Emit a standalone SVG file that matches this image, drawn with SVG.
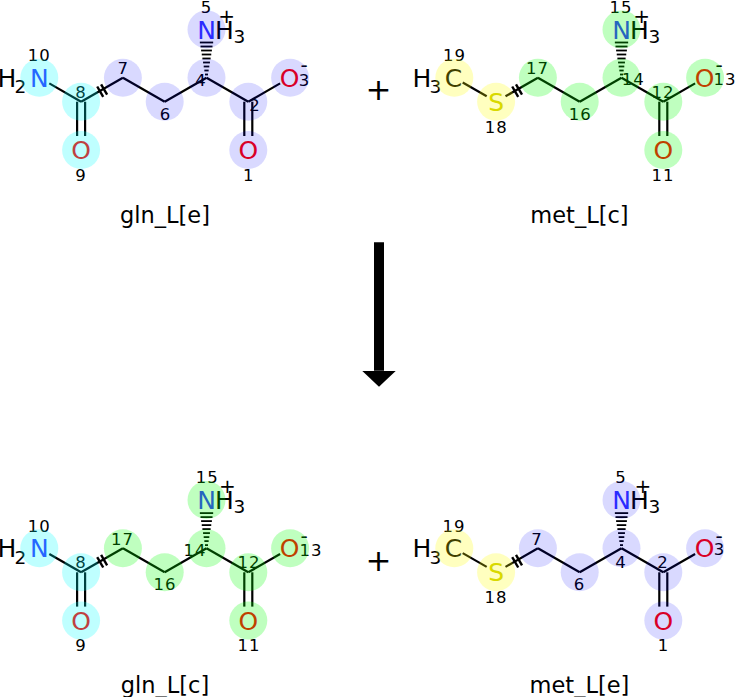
<svg xmlns="http://www.w3.org/2000/svg" width="735" height="697" viewBox="0 0 735 697">
<style>
.bg{fill:#ffffff}
.b{stroke:#000;stroke-width:2.2;fill:none;stroke-linecap:butt}
.tk{stroke:#000;stroke-width:2.4}
.hs{stroke:#000;stroke-width:1.8}
text{font-family:"DejaVu Sans","Liberation Sans",sans-serif;fill:#000}
.l{font-size:25px}
.m{text-anchor:middle}
.sub{font-size:18.5px}
.chg{font-size:20px;text-anchor:middle}
.idx{font-size:16.5px;text-anchor:middle;letter-spacing:1px}
.ttl{font-size:22.5px;text-anchor:middle}
.N{fill:#3333ff}
.O{fill:#ff0000}
.S{fill:#cccc00}
.hb{fill:#0000ff;fill-opacity:0.15}
.hc{fill:#00ffff;fill-opacity:0.25}
.hg{fill:#00ff00;fill-opacity:0.25}
.hy{fill:#ffff00;fill-opacity:0.25}
</style>
<defs>
<marker id="ah" markerUnits="userSpaceOnUse" viewBox="0 0 16 34" refX="0" refY="17" markerWidth="16" markerHeight="34" orient="auto">
<path d="M0,0 L16,17 L0,34 z" fill="#000"/>
</marker>
</defs>
<rect class="bg" x="0" y="0" width="735" height="697"/>

<g id="gln_L_e">
<g class="bonds">
<line class="b" x1="49.3" y1="83.4" x2="81.1" y2="101.7"/>
<line class="b" x1="81.1" y1="101.7" x2="122.9" y2="77.7"/>
<line class="b" x1="122.9" y1="77.7" x2="164.7" y2="101.7"/>
<line class="b" x1="164.7" y1="101.7" x2="206.5" y2="77.7"/>
<line class="b" x1="206.5" y1="77.7" x2="248.3" y2="101.7"/>
<line class="b" x1="248.3" y1="101.7" x2="280.1" y2="83.4"/>
<line class="b" x1="77.1" y1="101.7" x2="77.1" y2="136"/>
<line class="b" x1="85.1" y1="101.7" x2="85.1" y2="136"/>
<line class="b" x1="244.3" y1="101.7" x2="244.3" y2="136"/>
<line class="b" x1="252.3" y1="101.7" x2="252.3" y2="136"/>
<line class="tk" x1="97.2" y1="86.5" x2="103.2" y2="96.9"/>
<line class="tk" x1="101.1" y1="84.3" x2="107.1" y2="94.7"/>
<g class="hs">
<line x1="205" y1="74.5" x2="208" y2="74.5"/>
<line x1="204.35" y1="70.5" x2="208.65" y2="70.5"/>
<line x1="203.7" y1="66.5" x2="209.3" y2="66.5"/>
<line x1="203.05" y1="62.5" x2="209.95" y2="62.5"/>
<line x1="202.4" y1="58.5" x2="210.6" y2="58.5"/>
<line x1="201.75" y1="54.5" x2="211.25" y2="54.5"/>
<line x1="201.1" y1="50.5" x2="211.9" y2="50.5"/>
<line x1="200.5" y1="46.5" x2="212.5" y2="46.5"/>
<line x1="199.85" y1="42.5" x2="213.15" y2="42.5"/>
</g>
</g>
<text class="l" x="-2.4" y="86.8">H</text>
<text class="l sub" x="14.5" y="93.3">2</text>
<text class="l m N" x="39.3" y="86.8">N</text>
<text class="l m N" x="206.5" y="38.5">N</text>
<text class="l" x="215" y="38.5">H</text>
<text class="l sub" x="233.5" y="42.7">3</text>
<text class="chg" x="226.7" y="22.8">+</text>
<text class="l m O" x="289.6" y="86.8">O</text>
<text class="chg" x="304" y="72">-</text>
<text class="l m O" x="81.1" y="159.1">O</text>
<text class="l m O" x="248.3" y="159.1">O</text>
<text class="idx" x="39.3" y="61">10</text>
<text class="idx" x="81" y="98">8</text>
<text class="idx" x="81" y="181">9</text>
<text class="idx" x="123.3" y="74">7</text>
<text class="idx" x="165.5" y="120">6</text>
<text class="idx" x="201" y="86">4</text>
<text class="idx" x="206.5" y="12.7">5</text>
<text class="idx" x="255" y="110.5">2</text>
<text class="idx" x="248.8" y="181">1</text>
<text class="idx" x="304.5" y="86">3</text>
<circle class="hc" cx="39.3" cy="77.7" r="19"/>
<circle class="hc" cx="81.1" cy="101.7" r="19"/>
<circle class="hc" cx="81.1" cy="150" r="19"/>
<circle class="hb" cx="122.9" cy="77.7" r="19"/>
<circle class="hb" cx="164.7" cy="101.7" r="19"/>
<circle class="hb" cx="206.5" cy="77.7" r="19"/>
<circle class="hb" cx="206.5" cy="29.4" r="19"/>
<circle class="hb" cx="248.3" cy="101.7" r="19"/>
<circle class="hb" cx="248.3" cy="150" r="19"/>
<circle class="hb" cx="290.1" cy="77.7" r="19"/>
<text class="ttl" x="165" y="222.7">gln_L[e]</text>
</g>

<g id="met_L_c">
<g class="bonds">
<line class="b" x1="462.7" y1="82.5" x2="486.7" y2="96.3"/>
<line class="b" x1="505.5" y1="96.3" x2="537.9" y2="77.7"/>
<line class="b" x1="537.9" y1="77.7" x2="579.7" y2="101.7"/>
<line class="b" x1="579.7" y1="101.7" x2="621.5" y2="77.7"/>
<line class="b" x1="621.5" y1="77.7" x2="663.3" y2="101.7"/>
<line class="b" x1="663.3" y1="101.7" x2="695.1" y2="83.4"/>
<line class="b" x1="659.3" y1="101.7" x2="659.3" y2="136"/>
<line class="b" x1="667.3" y1="101.7" x2="667.3" y2="136"/>
<line class="tk" x1="512.2" y1="86.5" x2="518.2" y2="96.9"/>
<line class="tk" x1="516" y1="84.3" x2="522" y2="94.7"/>
<g class="hs">
<line x1="620" y1="74.5" x2="623" y2="74.5"/>
<line x1="619.35" y1="70.5" x2="623.65" y2="70.5"/>
<line x1="618.7" y1="66.5" x2="624.3" y2="66.5"/>
<line x1="618.05" y1="62.5" x2="624.95" y2="62.5"/>
<line x1="617.4" y1="58.5" x2="625.6" y2="58.5"/>
<line x1="616.75" y1="54.5" x2="626.25" y2="54.5"/>
<line x1="616.1" y1="50.5" x2="626.9" y2="50.5"/>
<line x1="615.5" y1="46.5" x2="627.5" y2="46.5"/>
<line x1="614.85" y1="42.5" x2="628.15" y2="42.5"/>
</g>
</g>
<text class="l" x="412.5" y="86.8">H</text>
<text class="l sub" x="429.4" y="93.3">3</text>
<text class="l m" x="453.5" y="86.8">C</text>
<text class="l m S" x="496.1" y="110.8">S</text>
<text class="l m N" x="621.5" y="38.5">N</text>
<text class="l" x="630" y="38.5">H</text>
<text class="l sub" x="648.5" y="42.7">3</text>
<text class="chg" x="641.7" y="22.8">+</text>
<text class="l m O" x="704.6" y="86.8">O</text>
<text class="chg" x="719.2" y="72">-</text>
<text class="l m O" x="663.3" y="159.1">O</text>
<text class="idx" x="454.5" y="61">19</text>
<text class="idx" x="496.3" y="133.3">18</text>
<text class="idx" x="537.5" y="74">17</text>
<text class="idx" x="580.3" y="120">16</text>
<text class="idx" x="633.3" y="85">14</text>
<text class="idx" x="621" y="12.7">15</text>
<text class="idx" x="663" y="98">12</text>
<text class="idx" x="663" y="181">11</text>
<text class="idx" x="725" y="85">13</text>
<circle class="hy" cx="454.3" cy="77.7" r="19"/>
<circle class="hy" cx="496.1" cy="101.7" r="19"/>
<circle class="hg" cx="537.9" cy="77.7" r="19"/>
<circle class="hg" cx="579.7" cy="101.7" r="19"/>
<circle class="hg" cx="621.5" cy="77.7" r="19"/>
<circle class="hg" cx="621.5" cy="29.4" r="19"/>
<circle class="hg" cx="663.3" cy="101.7" r="19"/>
<circle class="hg" cx="663.3" cy="150" r="19"/>
<circle class="hg" cx="705.1" cy="77.7" r="19"/>
<text class="ttl" x="579.5" y="222.7">met_L[c]</text>
</g>

<g id="gln_L_c" transform="translate(0,470.6)">
<g class="bonds">
<line class="b" x1="49.3" y1="83.4" x2="81.1" y2="101.7"/>
<line class="b" x1="81.1" y1="101.7" x2="122.9" y2="77.7"/>
<line class="b" x1="122.9" y1="77.7" x2="164.7" y2="101.7"/>
<line class="b" x1="164.7" y1="101.7" x2="206.5" y2="77.7"/>
<line class="b" x1="206.5" y1="77.7" x2="248.3" y2="101.7"/>
<line class="b" x1="248.3" y1="101.7" x2="280.1" y2="83.4"/>
<line class="b" x1="77.1" y1="101.7" x2="77.1" y2="136"/>
<line class="b" x1="85.1" y1="101.7" x2="85.1" y2="136"/>
<line class="b" x1="244.3" y1="101.7" x2="244.3" y2="136"/>
<line class="b" x1="252.3" y1="101.7" x2="252.3" y2="136"/>
<line class="tk" x1="97.2" y1="86.5" x2="103.2" y2="96.9"/>
<line class="tk" x1="101.1" y1="84.3" x2="107.1" y2="94.7"/>
<g class="hs">
<line x1="205" y1="74.5" x2="208" y2="74.5"/>
<line x1="204.35" y1="70.5" x2="208.65" y2="70.5"/>
<line x1="203.7" y1="66.5" x2="209.3" y2="66.5"/>
<line x1="203.05" y1="62.5" x2="209.95" y2="62.5"/>
<line x1="202.4" y1="58.5" x2="210.6" y2="58.5"/>
<line x1="201.75" y1="54.5" x2="211.25" y2="54.5"/>
<line x1="201.1" y1="50.5" x2="211.9" y2="50.5"/>
<line x1="200.5" y1="46.5" x2="212.5" y2="46.5"/>
<line x1="199.85" y1="42.5" x2="213.15" y2="42.5"/>
</g>
</g>
<text class="l" x="-2.4" y="86.8">H</text>
<text class="l sub" x="14.5" y="93.3">2</text>
<text class="l m N" x="39.3" y="86.8">N</text>
<text class="l m N" x="206.5" y="38.5">N</text>
<text class="l" x="215" y="38.5">H</text>
<text class="l sub" x="233.5" y="42.7">3</text>
<text class="chg" x="227.5" y="22.8">+</text>
<text class="l m O" x="289.6" y="86.8">O</text>
<text class="chg" x="304" y="72">-</text>
<text class="l m O" x="81.1" y="159.1">O</text>
<text class="l m O" x="248.3" y="159.1">O</text>
<text class="idx" x="39.3" y="61.1">10</text>
<text class="idx" x="81" y="97.7">8</text>
<text class="idx" x="81" y="180.4">9</text>
<text class="idx" x="122.5" y="74.4">17</text>
<text class="idx" x="165" y="119.4">16</text>
<text class="idx" x="195" y="85.4">14</text>
<text class="idx" x="207.2" y="12.7">15</text>
<text class="idx" x="249" y="97.7">12</text>
<text class="idx" x="249" y="180.1">11</text>
<text class="idx" x="311" y="85.4">13</text>
<circle class="hc" cx="39.3" cy="77.7" r="19"/>
<circle class="hc" cx="81.1" cy="101.7" r="19"/>
<circle class="hc" cx="81.1" cy="150" r="19"/>
<circle class="hg" cx="122.9" cy="77.7" r="19"/>
<circle class="hg" cx="164.7" cy="101.7" r="19"/>
<circle class="hg" cx="206.5" cy="77.7" r="19"/>
<circle class="hg" cx="206.5" cy="29.4" r="19"/>
<circle class="hg" cx="248.3" cy="101.7" r="19"/>
<circle class="hg" cx="248.3" cy="150" r="19"/>
<circle class="hg" cx="290.1" cy="77.7" r="19"/>
<text class="ttl" x="165" y="222.7">gln_L[c]</text>
</g>

<g id="met_L_e" transform="translate(0,470.6)">
<g class="bonds">
<line class="b" x1="462.7" y1="82.5" x2="486.7" y2="96.3"/>
<line class="b" x1="505.5" y1="96.3" x2="537.9" y2="77.7"/>
<line class="b" x1="537.9" y1="77.7" x2="579.7" y2="101.7"/>
<line class="b" x1="579.7" y1="101.7" x2="621.5" y2="77.7"/>
<line class="b" x1="621.5" y1="77.7" x2="663.3" y2="101.7"/>
<line class="b" x1="663.3" y1="101.7" x2="695.1" y2="83.4"/>
<line class="b" x1="659.3" y1="101.7" x2="659.3" y2="136"/>
<line class="b" x1="667.3" y1="101.7" x2="667.3" y2="136"/>
<line class="tk" x1="512.2" y1="86.5" x2="518.2" y2="96.9"/>
<line class="tk" x1="516" y1="84.3" x2="522" y2="94.7"/>
<g class="hs">
<line x1="620" y1="74.5" x2="623" y2="74.5"/>
<line x1="619.35" y1="70.5" x2="623.65" y2="70.5"/>
<line x1="618.7" y1="66.5" x2="624.3" y2="66.5"/>
<line x1="618.05" y1="62.5" x2="624.95" y2="62.5"/>
<line x1="617.4" y1="58.5" x2="625.6" y2="58.5"/>
<line x1="616.75" y1="54.5" x2="626.25" y2="54.5"/>
<line x1="616.1" y1="50.5" x2="626.9" y2="50.5"/>
<line x1="615.5" y1="46.5" x2="627.5" y2="46.5"/>
<line x1="614.85" y1="42.5" x2="628.15" y2="42.5"/>
</g>
</g>
<text class="l" x="412.5" y="86.8">H</text>
<text class="l sub" x="429.4" y="93.3">3</text>
<text class="l m" x="453.5" y="86.8">C</text>
<text class="l m S" x="496.1" y="110.8">S</text>
<text class="l m N" x="621.5" y="38.5">N</text>
<text class="l" x="630" y="38.5">H</text>
<text class="l sub" x="648.5" y="42.7">3</text>
<text class="chg" x="643" y="22.8">+</text>
<text class="l m O" x="704.6" y="86.8">O</text>
<text class="chg" x="719.2" y="72">-</text>
<text class="l m O" x="663.3" y="159.1">O</text>
<text class="idx" x="454" y="61.1">19</text>
<text class="idx" x="496" y="132.7">18</text>
<text class="idx" x="537" y="74.4">7</text>
<text class="idx" x="579.5" y="119.4">6</text>
<text class="idx" x="621" y="97.1">4</text>
<text class="idx" x="621" y="12.7">5</text>
<text class="idx" x="663" y="97.7">2</text>
<text class="idx" x="663.5" y="180.1">1</text>
<text class="idx" x="719.5" y="84.4">3</text>
<circle class="hy" cx="454.3" cy="77.7" r="19"/>
<circle class="hy" cx="496.1" cy="101.7" r="19"/>
<circle class="hb" cx="537.9" cy="77.7" r="19"/>
<circle class="hb" cx="579.7" cy="101.7" r="19"/>
<circle class="hb" cx="621.5" cy="77.7" r="19"/>
<circle class="hb" cx="621.5" cy="29.4" r="19"/>
<circle class="hb" cx="663.3" cy="101.7" r="19"/>
<circle class="hb" cx="663.3" cy="150" r="19"/>
<circle class="hb" cx="705.1" cy="77.7" r="19"/>
<text class="ttl" x="579.5" y="222.7">met_L[e]</text>
</g>

<g id="connectors">
<text id="plus_top" style="font-size:31px;text-anchor:middle" x="378.5" y="100">+</text>
<text id="plus_bottom" style="font-size:31px;text-anchor:middle" x="378.5" y="570.6">+</text>
<line id="reaction_arrow" x1="379" y1="242.3" x2="379" y2="370.7" stroke="#000" stroke-width="10" marker-end="url(#ah)"/>
</g>
</svg>
